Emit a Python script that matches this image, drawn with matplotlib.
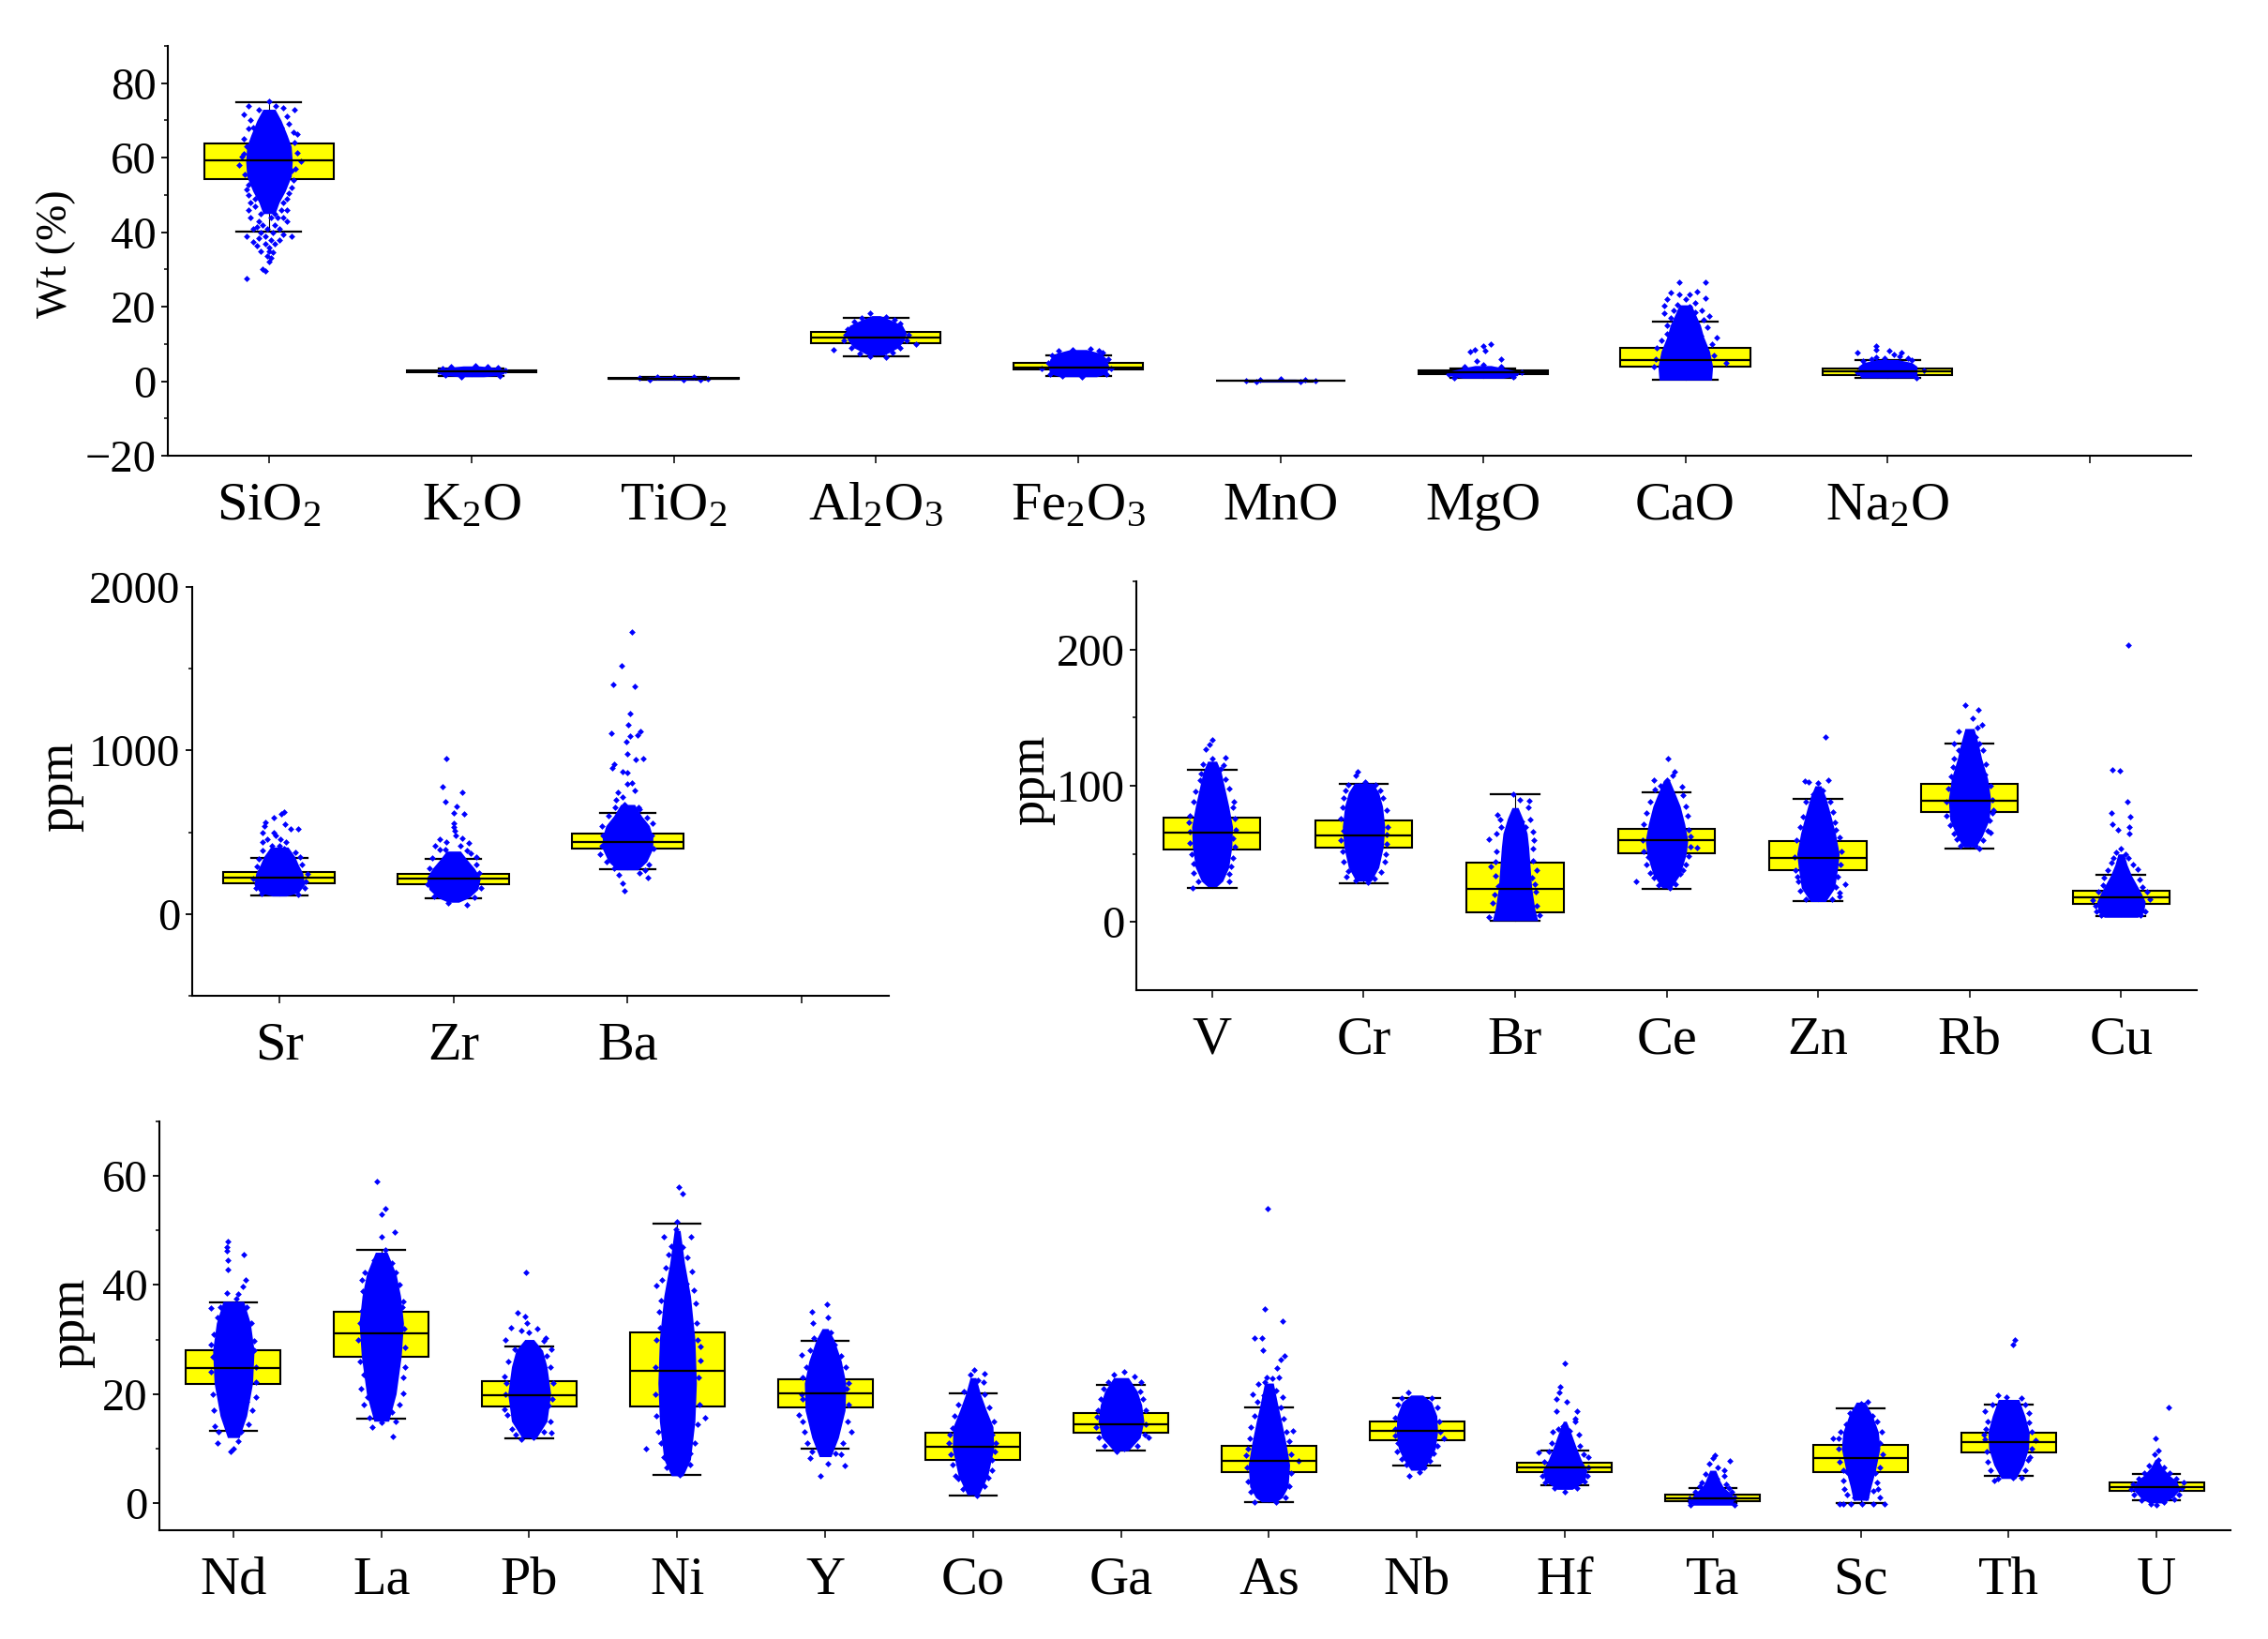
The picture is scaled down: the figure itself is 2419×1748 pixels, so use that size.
import matplotlib
matplotlib.use("Agg")
import matplotlib.pyplot as plt

W, H = 2419, 1748
plt.rcParams['font.family'] = ['Liberation Serif', 'DejaVu Serif']
plt.rcParams['mathtext.fontset'] = 'custom'
plt.rcParams['mathtext.rm'] = 'Liberation Serif'
plt.rcParams['mathtext.default'] = 'rm'

# ---------- box statistics ----------
oxide_labels = ["SiO$_2$", "K$_2$O", "TiO$_2$", "Al$_2$O$_3$", "Fe$_2$O$_3$", "MnO", "MgO", "CaO", "Na$_2$O", ""]
oxide_q1 =  [54.2, 2.4, 0.6, 10.3, 3.1, 0.05, 1.9, 3.8, 1.7]
oxide_med = [59.3, 2.6, 0.75, 11.8, 3.7, 0.1, 2.3, 5.8, 2.6]
oxide_q3 =  [63.7, 2.9, 0.9, 13.2, 4.9, 0.15, 2.9, 8.9, 3.5]
oxide_lo =  [40.1, 1.5, 0.45, 6.6, 1.4, 0.0, 0.9, 0.5, 1.0]
oxide_hi =  [75.0, 3.5, 1.05, 17.1, 6.9, 0.25, 3.5, 15.9, 5.8]

major_labels = ["Sr", "Zr", "Ba", ""]
major_q1 =  [188, 182, 401]
major_med = [223, 215, 440]
major_q3 =  [256, 248, 491]
major_lo =  [113, 94, 276]
major_hi =  [344, 336, 616]

mid_labels = ["V", "Cr", "Br", "Ce", "Zn", "Rb", "Cu"]
mid_q1 =  [53.3, 54.5, 6.9, 50.4, 38.0, 80.6, 13.3]
mid_med = [65.4, 63.6, 24.0, 60.2, 46.9, 89.2, 18.2]
mid_q3 =  [76.9, 74.2, 43.7, 68.5, 59.5, 101.7, 22.6]
mid_lo =  [25.3, 28.7, 1.0, 24.6, 15.7, 53.6, 4.2]
mid_hi =  [111.5, 101.5, 93.6, 95.0, 90.7, 131.0, 34.6]

trace_labels = ["Nd", "La", "Pb", "Ni", "Y", "Co", "Ga", "As", "Nb", "Hf", "Ta", "Sc", "Th", "U"]
trace_q1 =  [21.8, 26.9, 17.7, 17.7, 17.5, 7.9, 12.9, 5.7, 11.5, 5.6, 0.4, 5.7, 9.3, 2.2]
trace_med = [24.8, 31.2, 19.8, 24.2, 20.1, 10.3, 14.5, 7.8, 13.2, 6.5, 0.9, 8.2, 11.2, 2.9]
trace_q3 =  [28.0, 35.0, 22.3, 31.3, 22.7, 12.9, 16.5, 10.5, 14.9, 7.3, 1.5, 10.7, 12.9, 3.7]
trace_lo =  [13.2, 15.4, 11.8, 5.2, 9.9, 1.4, 9.6, 0.2, 6.9, 3.2, 0.0, 0.0, 4.9, 0.5]
trace_hi =  [36.8, 46.4, 28.8, 51.3, 29.7, 20.1, 21.6, 17.5, 19.2, 9.6, 2.7, 17.4, 18.1, 5.4]

# ---------- solid part of each point cloud: (value, half width) ----------
SiO2_core = [(45,.03),(48,.05),(51,.08),(55,.11),(59,.115),(63,.11),(66,.09),(70,.06),(73,.03)]
K2O_core = [(1.2,.06),(1.5,.13),(2,.16),(3,.17),(3.6,.13),(4.1,.04)]
TiO2_core = [(.35,.08),(.6,.16),(.9,.18),(1.25,.08)]
Al2O3_core = [(7,.04),(9,.11),(11,.14),(13,.15),(15,.13),(16.5,.07),(17.6,.02)]
Fe2O3_core = [(1.2,.09),(2,.14),(4,.15),(6,.14),(7.5,.11),(8.5,.04)]
MnO_core = [(-.15,.08),(.1,.18),(.3,.17),(.55,.07)]
MgO_core = [(.8,.10),(1.5,.17),(2.5,.18),(3.3,.12),(4.2,.04)]
CaO_core = [(.3,.13),(4,.135),(8,.12),(12,.09),(15,.075),(18,.05),(20.5,.03)]
Na2O_core = [(.9,.13),(2,.145),(4,.145),(5,.12),(5.8,.05)]
Sr_core = [(110,.04),(130,.11),(180,.145),(250,.135),(300,.11),(350,.09),(410,.05)]
Zr_core = [(72,.03),(100,.09),(150,.14),(220,.155),(280,.12),(330,.08),(385,.04)]
Ba_core = [(270,.06),(320,.11),(400,.145),(470,.145),(540,.125),(600,.08),(670,.04)]
V_core = [(26,.03),(30,.07),(40,.11),(55,.13),(70,.135),(85,.11),(100,.08),(110,.06),(118,.03)]
Cr_core = [(30,.05),(40,.10),(55,.13),(70,.14),(85,.125),(95,.10),(102,.06)]
Br_core = [(1,.15),(10,.13),(25,.11),(40,.10),(55,.09),(65,.08),(76,.05),(84,.02)]
Ce_core = [(25,.03),(35,.09),(50,.13),(60,.14),(72,.12),(85,.09),(96,.05),(104,.02)]
Zn_core = [(15,.05),(25,.11),(40,.13),(50,.14),(65,.115),(80,.08),(92,.05),(100,.02)]
Rb_core = [(55,.04),(62,.08),(75,.13),(90,.14),(105,.12),(120,.08),(130,.06),(142,.03)]
Cu_core = [(3.5,.11),(7,.15),(15,.16),(22,.13),(28,.10),(34,.07),(42,.04),(50,.02)]
Nd_core = [(12,.04),(16,.09),(22,.13),(28,.14),(33,.115),(37,.07)]
La_core = [(15,.05),(20,.10),(27,.135),(33,.15),(38,.13),(42,.10),(46,.04)]
Pb_core = [(12,.05),(15,.12),(20,.145),(25,.12),(28,.09),(30,.03)]
Ni_core = [(5,.04),(8,.09),(15,.12),(22,.13),(30,.12),(38,.09),(44,.05),(50,.02)]
Y_core = [(8.5,.04),(12,.09),(17,.135),(22,.14),(26,.11),(30,.06),(32,.02)]
Co_core = [(1.5,.04),(5,.10),(10,.14),(14,.135),(17,.09),(20,.05),(23,.02)]
Ga_core = [(9.6,.05),(12,.13),(15,.155),(18,.14),(20.5,.11),(23,.05)]
As_core = [(.2,.05),(1,.09),(3,.13),(7,.14),(11,.115),(15,.085),(18,.06),(22,.03)]
Nb_core = [(6,.04),(8,.09),(10,.125),(13,.14),(16,.135),(18.5,.10),(19.8,.04)]
Hf_core = [(2.5,.05),(4,.135),(6,.15),(8,.11),(10,.08),(13,.04),(15,.01)]
Ta_core = [(-.4,.135),(1,.145),(2,.11),(3,.07),(4,.05),(6,.02)]
Sc_core = [(.5,.05),(3,.07),(6,.10),(10,.13),(13,.12),(16,.08),(18.5,.03)]
Th_core = [(4.5,.05),(7,.10),(10,.135),(13,.14),(16,.11),(19,.07)]
U_core = [(.0,.05),(1,.11),(2.5,.16),(4,.135),(5,.09),(6.5,.04),(8,.01)]

# ---------- individually legible points: (offset from category, value) ----------
SiO2_pts = [(-.10,73.8),(.125,72.9),(0,75.2),(.035,73.8),(.07,73.4),(-.125,71.5),(-.09,70),(.09,71),(-.05,72.9),(0,72),(.12,66.8),(.14,66.4),(-.125,65),(-.10,67.8),(-.15,58),(.16,59),(-.135,60.3),(.14,61.2),(.11,56.6),(-.10,52.8),(.11,52),(.09,49),(-.10,50),(.03,70),(-.03,69),(.06,68),
(-.10,46),(-.07,47),(-.03,48),(.02,47),(.06,46),(.09,46),(.03,45),(-.04,45),(-.09,44),(-.05,43),(.01,44),(.07,44),(.03,42),(-.03,42),(.09,43),(-.08,41),(-.01,41),(.05,41),(.02,40),(-.04,40),(-.11,39),(-.05,38.5),(-.02,39),(.01,38),(.05,38),(.11,39),(-.06,36.5),(-.02,37),(0,36),(-.04,35),(0,35),(.02,34.5),(-.01,33.5),(.01,33),(0,32),(-.03,30),(-.11,27.5),(-.02,29.5),
(-.08,68),(.10,69),(-.11,63),(.125,64),(-.125,61),(.13,57),(-.12,55.5),(.12,54),(-.11,51.5),(.10,50.5),(-.07,49),(.07,48),(-.09,48),(.04,44),(-.06,41.5),(.07,39.5),(-.08,37.5),(.03,37)]
K2O_pts = [(-.16,2.6),(.17,2.8),(.02,4.1),(-.05,1.2),(.08,4),(-.1,3.8),(.13,3.6),(-.14,3.5),(.14,1.5),(-.13,1.6)]
TiO2_pts = [(-.17,.8),(.17,.7),(0,1.25),(.05,.35),(-.08,1.2),(.1,1.2),(-.12,.45),(.13,.4)]
Al2O3_pts = [(-.21,8.5),(.2,9.9),(.16,12.5),(-.03,18.2),(-.14,14),(-.11,16),(.12,15.5),(.05,6.5),(-.03,6.8),(.09,16.5),(.05,17.3),(-.16,11),(-.15,12.5),(.15,11),(-.12,9),(.12,9),(-.08,7.5),(.08,7.8),(-.07,17)]
Fe2O3_pts = [(-.18,3.4),(-.1,8.3),(-.03,8.5),(.06,8.6),(.12,7.6),(-.13,6.9),(.16,3.5),(.02,1.2),(-.08,1.3),(.1,8.2),(-.15,5),(.15,6),(.14,2),(-.14,1.9)]
MnO_pts = [(-.17,.1),(.17,.1),(0,.55),(-.1,.5),(.12,.45),(-.12,-.1),(.1,-.1)]
MgO_pts = [(-.065,8),(-.04,8.4),(0,9.4),(.01,8.2),(.04,10),(-.03,5.4),(.09,6),(.19,2.4),(-.17,2),(0,4.3),(.09,4),(-.09,3.9),(.15,1.1),(-.14,1)]
CaO_pts = [(-.03,26.6),(.1,26.5),(.1,22.4),(-.07,23.9),(-.09,22),(-.03,23.2),(.02,23.2),(0,22),(-.04,20.6),(-.105,20.2),(-.105,18.3),(.12,17.4),(.05,18.5),(.09,16.4),(-.07,16.9),(.155,11.8),(.11,14.6),(-.09,12.7),(.2,5),(-.155,3.8),(-.14,9),(.075,12.2),(.05,21),(-.06,19),(.02,20),(.08,19),(-.09,15),(.13,10),(-.12,11),(-.145,6),(.14,7),(.06,24)]
Na2O_pts = [(-.15,7.8),(-.055,9.4),(-.055,8.5),(.01,8.2),(.03,7.3),(.07,7.8),(.06,6.6),(-.015,6.3),(-.055,6.5),(.18,2.9),(-.15,2.4),(-.12,5.3),(.12,5.6),(-.08,6),(.1,6.1),(.14,.9)]
Sr_pts = [(.03,622),(.01,612),(-.03,592),(-.08,561),(-.085,540),(.035,551),(.065,520),(.11,520),(-.095,500),(-.03,500),(-.07,458),(.005,458),(.04,438),(-.095,438),(-.045,418),(0,418),(.09,377),(-.095,387),(.16,248),(.145,162),(-.135,162),(-.02,480),(.03,400),(-.12,340),(.12,350),(.13,300),(-.13,290),(.15,200),(-.15,215),(.11,120),(-.1,125)]
Zr_pts = [(-.04,950),(-.065,776),(.05,743),(-.045,688),(.02,657),(.06,612),(0,616),(0,555),(.01,510),(0,530),(.015,479),(-.08,458),(.05,465),(-.04,438),(.09,432),(-.105,418),(.04,418),(-.045,397),(.075,387),(.13,346),(.145,254),(.16,162),(.08,59),(-.03,70),(-.12,345),(.13,300),(-.14,280),(-.15,180),(.12,100),(-.11,110),(.1,370),(-.08,395)]
Ba_pts = [(.025,1724),(-.035,1517),(-.085,1402),(.04,1392),(.015,1226),(.005,1155),(-.095,1103),(.075,1118),(.055,1093),(.015,1087),(-.005,1056),(0,978),(.045,944),(.09,950),(-.08,919),(-.09,892),(-.03,868),(0,866),(0,796),(.025,800),(-.055,745),(.04,755),(-.03,714),(-.065,698),(.065,653),(-.02,670),(.145,555),(-.15,540),(-.16,366),(.115,223),(-.05,237),(-.03,188),(-.02,145),(.07,254),(.02,640),(-.04,630),(.11,590),(-.11,600),(.14,480),(-.14,480),(.15,400),(-.15,420),(-.12,320),(.12,300),(.1,270),(-.08,280),(.07,640),(-.07,650)]
V_pts = [(0,134),(-.015,130),(-.04,127),(.085,120.6),(0,120),(-.06,116),(.06,112.5),(.145,88),(-.155,73),(.14,61.7),(-.13,25.3),(.11,35),(-.10,41.3),(.075,115),(-.075,109),(.02,112),
(-.08,104),(.09,105),(-.11,96),(.11,98),(-.125,88),(.135,84),(-.15,78),(.15,76),(-.15,66),(.155,68),(-.145,58),(.15,55),(-.135,50),(.14,47),(-.12,43),(.125,41),(-.12,36),(.115,30),(-.09,30)]
Cr_pts = [(-.04,110),(-.05,107.6),(-.12,96.5),(.11,96.5),(.16,69.5),(.145,50),(-.13,67),(-.1,37.6),(.07,41),(-.05,30.2),(.08,101),(-.03,100),
(-.1,101),(.01,103),(-.13,91),(.13,91),(-.14,84),(.15,82),(-.15,76),(.155,64),(-.15,60),(.15,57),(-.14,52),(.14,44),(-.135,44),(.115,37),(-.115,33),(.07,32),(.03,29)]
Br_pts = [(-.01,93.6),(.03,89.7),(.095,89),(.085,84),(-.12,79),(-.01,78),(.045,74),(-.17,61),(.125,60),(.14,38),(-.16,41),(-.11,26.5),(.11,32.7),(.07,69.5),(-.09,69.5),
(.1,75),(-.1,75),(.12,66),(-.125,65),(.12,54),(-.125,52),(.115,45),(-.13,44),(.13,28),(-.13,34),(-.135,20),(.135,22),(.145,12),(-.15,14),(.16,5),(-.17,4)]
Ce_pts = [(.01,119.7),(.05,110),(.04,107.6),(-.085,104.4),(0,104),(.1,99.5),(-.04,100),(-.2,30),(.2,54.3),(.145,68),(.145,48.6),(-.12,47.4),(.09,35),(-.085,32.7),
(-.08,97),(.11,93),(-.11,88),(.125,85),(-.13,80),(.14,78),(-.15,72),(.155,63),(-.155,60),(-.15,52),(.155,55),(.125,42),(-.13,42),(.11,38),(-.11,36),(.06,28),(-.05,27),(.02,25)]
Zn_pts = [(.05,136),(-.09,103.4),(-.06,102.7),(.07,104),(0,102),(.03,96.5),(-.03,94),(.18,28),(-.13,30),(.14,21.6),(-.155,47.4),(.11,73),(-.1,77),(.14,19),
(.08,88),(-.08,88),(.1,81),(.12,68),(-.12,70),(.14,62),(-.14,60),(.155,52),(.15,42),(-.15,38),(.13,33),(-.135,33),(.12,26),(-.12,23),(.09,17),(-.08,17)]
Rb_pts = [(-.03,159),(.06,155.5),(.02,149.4),(.085,144.5),(.05,143),(-.07,139.6),(-.015,138),(.04,136),(.065,131),(-.10,131),(.155,81.8),(.14,65.8),(-.085,61),(.065,53.6),(.13,74.4),(-.11,113.8),(.11,116),
(-.07,126),(.09,126),(-.1,120),(.1,108),(-.12,107),(.14,100),(-.14,98),(.15,90),(-.15,88),(.15,80),(-.15,78),(-.13,71),(.12,67),(-.1,65),(.09,60),(-.06,56),(.04,56)]
Cu_pts = [(.05,203.4),(-.06,111.8),(-.01,111.3),(.04,88.5),(-.065,80),(.06,77),(-.06,72),(.055,69.5),(-.02,68),(.055,64.6),(0,53.6),(-.03,51),(.03,50),(-.065,43.7),(.11,38.8),(-.11,32.7),(.19,17),(-.19,16),
(.05,47),(-.05,47),(.08,42),(-.09,38),(.12,31),(-.12,27),(.14,26),(-.15,22),(.17,22),(-.17,12),(.16,8),(-.16,8),(.13,5),(-.13,5)]
Nd_pts = [(-.04,48),(-.045,47),(-.045,46.3),(.07,45.6),(-.04,44.5),(-.04,42.8),(.08,41),(.065,39.7),(-.045,38.6),(.03,38.4),(-.15,35.8),(.14,29.7),(-.14,26.9),(.15,22.2),(-.11,11),(.03,11.3),(-.02,9.4),(0,10),(-.125,14.1),(.09,18.5),
(.02,37.5),(-.09,36),(.09,36),(-.11,34),(.12,33),(-.13,31),(.14,28),(-.15,29),(.155,25),(-.15,24),(.15,19.5),(-.14,20),(.13,17),(-.13,17),(.1,14.5),(-.1,13),(.05,13)]
La_pts = [(-.03,59),(.025,54),(0,53),(.09,49.7),(0,48.9),(.03,46.4),(-.115,42.3),(.095,42.3),(-.125,38.8),(.15,37),(-.13,35.3),(.16,28.6),(-.12,23.5),(.145,20.2),(-.09,19.4),(.07,16.6),(-.06,13.9),(0,14.7),(.08,12.2),(-.08,15.7),
(.01,45),(-.05,44.5),(.07,44),(-.13,41),(.12,40),(.14,36),(-.145,33),(.155,32),(-.155,30),(.16,25),(-.145,26),(.15,23),(-.14,21),(.125,18),(-.12,18),(.1,15)]
Pb_pts = [(-.02,42.3),(-.08,34.9),(-.03,34.2),(-.015,33.1),(-.125,32.2),(.055,31.9),(-.055,31.6),(0,31.3),(-.16,30),(.11,30.3),(.1,29.7),(-.1,28.2),(.15,28.2),(-.17,23.2),(-.165,17.2),(.15,12.9),(-.055,11.6),(-.15,16.1),(.13,17.9),(-.12,13.5),
(.12,27),(-.14,26),(.14,25),(-.155,22),(.16,22),(-.16,20),(.155,19),(.14,15),(.1,13),(-.09,12.5),(.03,12)]
Ni_pts = [(.01,58),(.035,56.7),(0,51.6),(-.01,50.2),(-.09,48.8),(.095,48.8),(-.04,47.2),(0,46),(.035,46.9),(-.08,43.1),(.1,42.5),(.01,43.4),(-.14,39.9),(.06,40.3),(-.11,37.2),(.125,36.6),(-.21,9.9),(.19,15.7),(.135,14.4),(.16,28.8),(.16,26.1),(-.115,32.2),(-.09,8.5),(.085,9.1),
(-.06,45.5),(.07,45),(-.1,41),(.11,39),(-.125,35),(.13,33),(-.14,30),(.14,30),(-.145,25),(.145,23),(-.15,20),(.15,18),(-.14,16),(-.13,13),(.12,11),(-.11,11),(.09,7),(-.07,6.5),(.02,5.2)]
Y_pts = [(.01,36.5),(-.09,35),(.02,34.1),(-.085,33),(0,31.3),(.035,31.3),(-.075,30.3),(-.18,16.1),(.18,13),(-.16,27.2),(.13,6.9),(-.035,5),(-.1,8.2),(.02,7.2),(.12,11),(-.15,19.1),(.145,21),(.07,9.1),
(.06,29),(-.1,28),(.11,27),(-.13,25),(.14,25),(-.155,23),(.16,22),(-.16,20),(.16,18),(-.155,15),(.15,15),(-.14,13),(-.12,11),(.11,9),(-.09,9.5)]
Co_pts = [(.01,24.4),(.08,23.7),(-.02,23.5),(.03,22.5),(.07,22.2),(0,21),(-.14,13.8),(.13,12.5),(-.1,4.4),(.1,4.7),(.025,1.3),(.13,7.9),(-.165,11),
(-.06,20.5),(.08,20),(-.1,18),(.11,17.5),(-.125,16),(.14,15),(-.155,12.5),(.155,11),(-.15,9),(.15,9.5),(-.14,7),(.13,6),(-.12,5),(.08,3),(-.07,2.5)]
Ga_pts = [(.02,24),(-.05,23.5),(.09,23.2),(-.085,22.2),(.135,22.2),(-.165,15.9),(.185,12),(-.03,9.4),(.02,10),
(-.12,21),(.13,20.5),(-.14,19),(.15,19),(-.155,17),(.165,17),(.17,14.5),(-.17,14),(.16,12.5),(-.15,12),(.11,10.5),(-.11,10.5)]
As_pts = [(-.01,54),(-.025,35.6),(.09,33.4),(-.1,30.3),(-.045,30.3),(-.04,28),(.105,27),(.08,26.3),(.055,24.7),(-.015,23),(.025,22.8),(.065,23),(-.07,21.9),(-.025,22.1),(-.11,19.9),(.09,19.4),(.015,21),(-.035,19.7),(.05,20.7),(.165,13.2),(-.155,8.8),(.2,7.7),(-.095,.2),(-.13,11.9),(.14,11.3),
(-.08,18.5),(.08,17.5),(-.1,16),(.1,15.5),(-.12,14),(.12,13),(-.145,10),(.15,9),(-.15,6.5),(.15,5.5),(-.145,4),(.14,3),(-.125,2),(.11,1),(.05,.2)]
Nb_pts = [(-.06,20.3),(-.05,5),(.015,5.7),(.18,11.9),(-.15,15.7),(-.125,11),(.11,9.1),(.05,6.6),(-.15,12.4),
(.1,19.2),(-.1,19.3),(.14,17.5),(-.13,18),(.15,15),(.155,13),(-.15,13.5),(.14,10.5),(-.135,9.5),(-.1,8),(.09,7.8),(-.07,7)]
Hf_pts = [(0,25.7),(-.03,21.3),(-.04,20.3),(-.055,19),(.015,18.6),(.08,16.9),(-.055,16.9),(.07,15.5),(.07,14.9),(-.015,14.1),(-.045,13.5),(-.085,13),(.035,13.2),(.095,12.5),(-.18,9.2),(.16,8.5),(0,2),(.16,6.6),(-.15,5),
(-.09,11),(.1,10.5),(-.11,9.5),(.125,9),(-.14,7.5),(.15,5),(.135,4),(-.13,3.7),(.08,2.8),(-.07,2.8)]
Ta_pts = [(.015,8.8),(0,8.2),(.115,7.7),(-.025,7.2),(.035,6.6),(.075,6),(-.05,5.4),(.075,5),(.025,4.4),(-.075,3.8),(.09,3.5),(-.025,4.2),(.15,1),(-.15,.1),(.15,-.3),(-.15,-.3),(-.09,3),(.11,2.8),(-.12,2),(.13,2),(-.155,.8)]
Sc_pts = [(.045,18.5),(0,18.2),(-.04,17.2),(-.19,11.9),(-.15,11.9),(-.115,-.1),(-.065,-.1),(.01,-.1),(.085,-.1),(.16,-.1),(-.14,-.1),(-.09,1.6),(-.015,2.2),(.085,2.2),(.13,1),(-.04,1),(-.115,4.1),(.11,3.8),(.035,1),(-.09,5.7),(.13,11),
(-.07,16.5),(.08,16),(-.1,14.5),(.11,15),(-.135,13),(.14,13),(-.15,10),(.15,9),(-.145,7.5),(.13,6.5),(-.12,6),(.1,5.5),(.12,2.5),(-.11,2.5)]
Th_pts = [(.045,30),(.03,29.1),(-.07,19.7),(-.015,19.4),(.085,19.3),(-.16,16.9),(-.165,12.5),(-.16,11.7),(.14,14.7),(.18,11.5),(-.14,7.6),(.13,7.9),(-.1,4.1),(.085,4.7),
(.11,18),(-.11,18),(.14,16.5),(-.14,15),(.155,13),(-.155,13.5),(.155,10),(-.15,9.5),(.145,8.5),(-.12,6),(.11,6),(-.07,4.5),(.03,4.6)]
U_pts = [(.08,17.5),(-.005,11.8),(.01,9.6),(-.015,9),(.015,7.9),(-.05,6.9),(.05,6.6),(.18,3.8),(-.17,2.6),(.15,1.6),(0,-.4),
(-.08,5.5),(.09,5.5),(-.12,4.5),(.13,4.5),(-.16,3.5),(.17,2.8),(-.15,1.5),(.12,.7),(-.1,.5),(.05,.1),(-.04,-.1)]


def panel(rect, labels, q1, med, q3, lo, hi, cores, clouds, ylim, majors, minors, ylabel, ylabel_size, ylabel_x, ylabel_dy):
    left, top, right, bottom = rect
    ax = fig.add_axes([left / W, 1 - bottom / H, (right - left) / W, (bottom - top) / H])
    pos = list(range(1, len(q1) + 1))
    stats = [dict(q1=a, med=b, q3=c, whislo=d, whishi=e, fliers=[])
             for a, b, c, d, e in zip(q1, med, q3, lo, hi)]
    art = ax.bxp(stats, positions=pos, widths=0.64, capwidths=0.32, patch_artist=True,
                 showfliers=False, manage_ticks=False,
                 boxprops=dict(facecolor='#ffff00', edgecolor='black', linewidth=1.5),
                 medianprops=dict(color='black', linewidth=1.6),
                 whiskerprops=dict(color='black', linewidth=0.8),
                 capprops=dict(color='black', linewidth=1.6))
    for m in art['medians']:
        m.set_zorder(6)
    for p, core, cloud in zip(pos, cores, clouds):
        ys = [c[0] for c in core]
        ws = [c[1] for c in core]
        ax.fill_betweenx(ys, [p - w for w in ws], [p + w for w in ws], color='#0000ff', lw=0, zorder=4)
        ax.scatter([p + c[0] for c in cloud], [c[1] for c in cloud], marker='D', s=12,
                   color='#0000ff', lw=0, zorder=5)
    ax.set_xlim(0.5, len(labels) + 0.5)
    ax.set_ylim(*ylim)
    ax.spines[['top', 'right']].set_visible(False)
    ax.spines[['left', 'bottom']].set_linewidth(1.5)
    ax.set_xticks(range(1, len(labels) + 1))
    ax.set_xticklabels(labels, fontsize=42)
    ax.set_yticks(majors)
    ax.set_yticks(minors, minor=True)
    ax.tick_params(axis='y', which='major', labelsize=35, length=5, width=1.3, pad=4)
    ax.tick_params(axis='y', which='minor', length=3, width=1.1)
    ax.tick_params(axis='x', which='major', length=6, width=1.1, pad=14)
    fig.text(ylabel_x / W, 1 - ((top + bottom) / 2 + ylabel_dy) / H, ylabel, rotation=90, ha='center', va='center',
             fontsize=ylabel_size)
    return ax


fig = plt.figure(figsize=(W / 100, H / 100), dpi=100, facecolor='white')

panel((179, 49, 2337, 486), oxide_labels, oxide_q1, oxide_med, oxide_q3, oxide_lo, oxide_hi,
      [SiO2_core, K2O_core, TiO2_core, Al2O3_core, Fe2O3_core, MnO_core, MgO_core, CaO_core, Na2O_core],
      [SiO2_pts, K2O_pts, TiO2_pts, Al2O3_pts, Fe2O3_pts, MnO_pts, MgO_pts, CaO_pts, Na2O_pts],
      (-20, 90), [-20, 0, 20, 40, 60, 80], [-10, 10, 30, 50, 70, 90], "Wt (%)", 33, 60, 3)

panel((205, 626, 948, 1062), major_labels, major_q1, major_med, major_q3, major_lo, major_hi,
      [Sr_core, Zr_core, Ba_core], [Sr_pts, Zr_pts, Ba_pts],
      (-500, 2000), [0, 1000, 2000], [-500, 500, 1500], "ppm", 39, 64, -5)

panel((1212, 620, 2343, 1056), mid_labels, mid_q1, mid_med, mid_q3, mid_lo, mid_hi,
      [V_core, Cr_core, Br_core, Ce_core, Zn_core, Rb_core, Cu_core],
      [V_pts, Cr_pts, Br_pts, Ce_pts, Zn_pts, Rb_pts, Cu_pts],
      (-50, 250), [0, 100, 200], [50, 150, 250], "ppm", 39, 1100, -6)

panel((170, 1196, 2379, 1632), trace_labels, trace_q1, trace_med, trace_q3, trace_lo, trace_hi,
      [Nd_core, La_core, Pb_core, Ni_core, Y_core, Co_core, Ga_core, As_core, Nb_core, Hf_core, Ta_core, Sc_core, Th_core, U_core],
      [Nd_pts, La_pts, Pb_pts, Ni_pts, Y_pts, Co_pts, Ga_pts, As_pts, Nb_pts, Hf_pts, Ta_pts, Sc_pts, Th_pts, U_pts],
      (-5, 70), [0, 20, 40, 60], [10, 30, 50, 70], "ppm", 39, 76, -3)

fig.savefig("out.png", dpi=100, facecolor='white')
